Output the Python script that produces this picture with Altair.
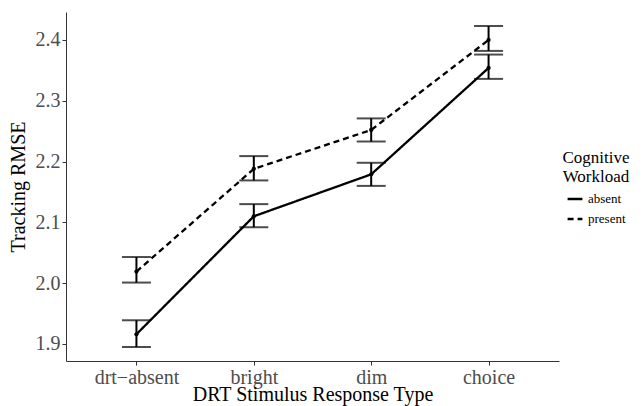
import altair as alt
import pandas as pd

categories = ["drt\u2212absent", "bright", "dim", "choice"]
groups = ["absent", "present"]

absent_mean = [1.916, 2.110, 2.179, 2.354]
absent_low = [1.895, 2.092, 2.160, 2.336]
absent_high = [1.939, 2.130, 2.198, 2.376]

present_mean = [2.019, 2.188, 2.252, 2.400]
present_low = [2.001, 2.169, 2.233, 2.382]
present_high = [2.043, 2.209, 2.271, 2.423]

y_ticks = [1.9, 2.0, 2.1, 2.2, 2.3, 2.4]

rows = []
for g, m, lo, hi in [("absent", absent_mean, absent_low, absent_high),
                     ("present", present_mean, present_low, present_high)]:
    for i, c in enumerate(categories):
        rows.append({"type": c, "workload": g, "mean": m[i], "low": lo[i], "high": hi[i]})
df = pd.DataFrame(rows)

FONT = "Liberation Serif"

x_enc = alt.X("type:N", sort=categories, scale=alt.Scale(type="point", padding=0.6),
              title="DRT Stimulus Response Type",
              axis=alt.Axis(labelAngle=0, labelFontSize=20, titleFontSize=20,
                            labelColor="#4d4d4d", titleColor="#000000",
                            labelPadding=2, titlePadding=-3, titleFontWeight="normal",
                            domainColor="#333333", tickColor="#333333", tickSize=4,
                            grid=False, labelFont=FONT, titleFont=FONT))
y_scale = alt.Scale(domain=[1.872, 2.446], nice=False, zero=False)
y_axis = alt.Axis(values=y_ticks, format=".1f", labelFontSize=20, titleFontSize=20,
                  labelColor="#4d4d4d", titleColor="#000000", labelPadding=2,
                  titlePadding=7, titleFontWeight="normal", domainColor="#333333",
                  tickColor="#333333", tickSize=4, grid=False, labelFont=FONT,
                  titleFont=FONT)

base = alt.Chart(df)

lines = base.mark_line(color="black", strokeWidth=2.3).encode(
    x=x_enc,
    y=alt.Y("mean:Q", scale=y_scale, axis=y_axis, title="Tracking RMSE"),
    strokeDash=alt.StrokeDash(
        "workload:N",
        scale=alt.Scale(domain=groups, range=[[1, 0], [6, 4]]),
        legend=alt.Legend(title=["Cognitive", "Workload"], orient="none",
                          legendX=496, legendY=138, symbolType="stroke",
                          symbolStrokeColor="black", symbolStrokeWidth=2.3,
                          symbolSize=220, titleFontSize=17, labelFontSize=13,
                          titleFont=FONT, labelFont=FONT, titleFontWeight="normal",
                          titleColor="black", labelColor="black", titlePadding=4,
                          titleAnchor="middle", titleAlign="center",
                          rowPadding=4, labelOffset=4),
    ),
    detail="workload:N",
)

points = base.mark_circle(color="black", size=18, opacity=1).encode(
    x=alt.X("type:N", sort=categories), y=alt.Y("mean:Q"))

err = base.mark_rule(color="black", strokeWidth=2).encode(
    x=alt.X("type:N", sort=categories), y=alt.Y("low:Q"), y2="high:Q")

cap_lo = base.mark_tick(color="black", size=29, thickness=2, orient="horizontal").encode(
    x=alt.X("type:N", sort=categories), y=alt.Y("low:Q"))
cap_hi = base.mark_tick(color="black", size=29, thickness=2, orient="horizontal").encode(
    x=alt.X("type:N", sort=categories), y=alt.Y("high:Q"))

chart = alt.layer(lines, err, cap_lo, cap_hi, points).properties(
    width=493, height=349,
    autosize=alt.AutoSizeParams(type="none"),
    padding={"left": 58, "top": 4, "right": 77, "bottom": 45},
).configure(background="white").configure_view(stroke=None).configure_legend(
    titleFont=FONT, labelFont=FONT, titleFontWeight="normal")

chart.save("out.html", embed_options={"renderer": "svg", "actions": False})
